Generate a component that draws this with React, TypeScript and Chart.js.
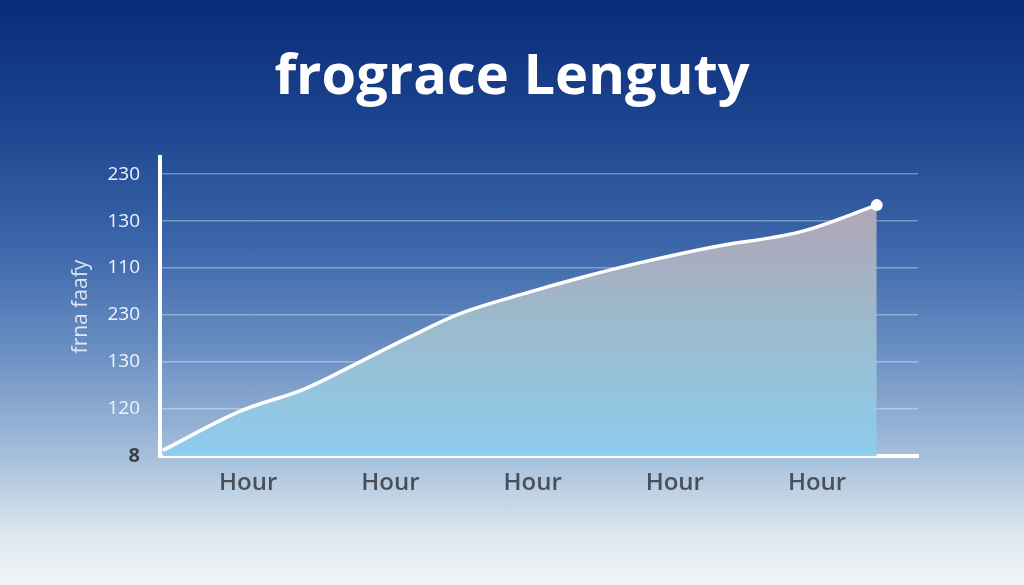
import React, { useEffect, useRef } from "react";
import { Chart, registerables } from "chart.js";

Chart.register(...registerables);

// x positions in "hour" units; labels sit at 1..5
const hours = [0.4, 0.94, 1.39, 1.79, 2.14, 2.49, 2.91, 3.33, 3.75, 4.27, 4.88, 5.42];
const values = [0.12, 0.95, 1.42, 2.01, 2.54, 3.03, 3.43, 3.79, 4.11, 4.45, 4.77, 5.34];
const yTickLabels = ["8", "120", "130", "230", "110", "130", "230"];
const xTickPositions = [1, 2, 3, 4, 5];
const xTickLabel = "Hour";
const chartTitle = "frograce Lenguty";
const yTitle = "frna faafy";

const App: React.FC = () => {
  const canvasRef = useRef<HTMLCanvasElement>(null);
  const chartRef = useRef<Chart | null>(null);

  useEffect(() => {
    document.body.style.margin = "0";
    if (!canvasRef.current) return;
    if (chartRef.current) chartRef.current.destroy();

    const ctx = canvasRef.current.getContext("2d");
    if (!ctx) return;

    chartRef.current = new Chart(ctx, {
      type: "line",
      data: {
        datasets: [
          {
            data: hours.map((h, i) => ({ x: h, y: values[i] })),
            borderColor: "#ffffff",
            borderWidth: 3.5,
            tension: 0.35,
            fill: "origin",
            backgroundColor: (c: any) => {
              const area = c.chart.chartArea;
              if (!area) return "rgba(140,200,235,0.9)";
              const g = c.chart.ctx.createLinearGradient(0, 200, 0, area.bottom);
              g.addColorStop(0, "rgba(185,168,182,0.95)");
              g.addColorStop(0.45, "rgba(160,188,204,0.95)");
              g.addColorStop(1, "rgba(140,205,238,0.97)");
              return g;
            },
            pointRadius: (c: any) => (c.dataIndex === values.length - 1 ? 6 : 0),
            pointBackgroundColor: "#ffffff",
            pointBorderColor: "#ffffff",
            pointBorderWidth: 0,
          },
        ],
      },
      options: {
        animation: false,
        responsive: false,
        maintainAspectRatio: false,
        layout: { padding: 0 },
        plugins: {
          legend: { display: false },
          tooltip: { enabled: false },
          title: {
            display: true,
            text: chartTitle,
            color: "#ffffff",
            font: { family: "'Open Sans', sans-serif", size: 56, weight: "bold" },
            padding: { top: 44, bottom: 46 },
          },
        },
        scales: {
          x: {
            type: "linear",
            min: 0.38,
            max: 5.71,
            afterBuildTicks: (scale: any) => {
              scale.ticks = xTickPositions.map((v) => ({ value: v }));
            },
            afterFit: (scale: any) => {
              scale.height = 129;
            },
            grid: { display: false, drawTicks: false },
            border: { display: true, color: "#ffffff", width: 4 },
            ticks: {
              padding: 13,
              color: "#4a5058",
              font: { family: "'Open Sans', sans-serif", size: 24, weight: 600 },
              callback: () => xTickLabel,
            },
          },
          y: {
            type: "linear",
            min: 0,
            max: 6.36,
            afterBuildTicks: (scale: any) => {
              scale.ticks = yTickLabels.map((_, i) => ({ value: i }));
            },
            afterFit: (scale: any) => {
              scale.width = 160;
            },
            grid: {
              color: (c: any) => (c.index === 0 ? "rgba(0,0,0,0)" : "rgba(255,255,255,0.35)"),
              lineWidth: 1.5,
              drawTicks: false,
            },
            border: { display: true, color: "#ffffff", width: 4 },
            title: {
              display: true,
              text: yTitle,
              color: "rgba(235,242,250,0.9)",
              font: { family: "'Open Sans', sans-serif", size: 21 },
              padding: { top: 68, bottom: 0 },
            },
            ticks: {
              padding: 20,
              color: (c: any) => (c.index === 0 ? "#3e4147" : "#eef3fa"),
              font: (c: any) =>
                c.index === 0
                  ? { family: "'Open Sans', sans-serif", size: 20, weight: "bold" }
                  : { family: "'Open Sans', sans-serif", size: 19 },
              callback: (_v: any, i: number) => yTickLabels[i],
            },
          },
          // empty right-hand spacer so the title stays centred on the page
          spacer: {
            type: "linear",
            position: "right",
            display: true,
            afterFit: (scale: any) => {
              scale.width = 106;
            },
            grid: { display: false, drawTicks: false },
            border: { display: false },
            ticks: { display: false },
          },
        },
      },
    });

    return () => {
      if (chartRef.current) {
        chartRef.current.destroy();
        chartRef.current = null;
      }
    };
  }, []);

  return (
    <div
      style={{
        position: "fixed",
        left: 0,
        top: 0,
        width: 1024,
        height: 585,
        background:
          "linear-gradient(180deg, #0a2a78 0%, #1d4690 22%, #3c66aa 42%, #6a8fc3 60%, #a6bfdb 78%, #dfe8f1 92%, #f2f5f8 100%)",
      }}
    >
      <canvas ref={canvasRef} width={1024} height={585} style={{ width: 1024, height: 585 }} />
    </div>
  );
};

export default App;
